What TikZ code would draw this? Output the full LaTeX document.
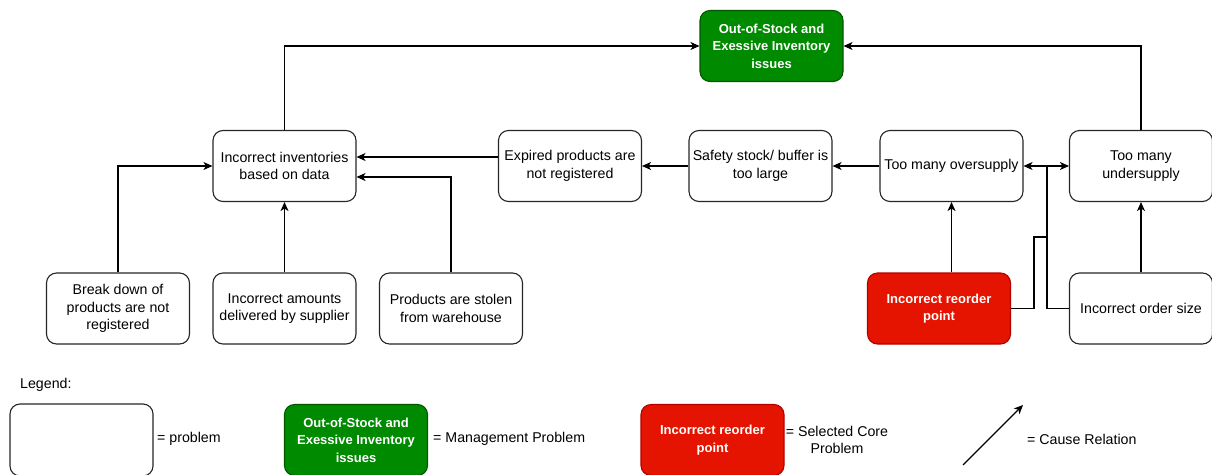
\documentclass[tikz,border=0pt]{standalone}
\usepackage{fontspec}
\setmainfont{Liberation Sans}
\usetikzlibrary{arrows.meta,calc}
\definecolor{mgreen}{HTML}{008A00}
\definecolor{mgreenb}{HTML}{005700}
\definecolor{mred}{HTML}{E51400}
\definecolor{mredb}{HTML}{B20000}
\tikzset{
  box/.style={draw=black!85, line width=1.1pt, rounded corners=10pt, minimum width=143pt, minimum height=71pt,
    align=center, inner sep=0pt, font=\fontsize{14.2}{17.5}\selectfont, fill=white},
  mgmt/.style={box, fill=mgreen, draw=mgreenb, text=white, font=\fontsize{13}{17.5}\selectfont\bfseries},
  core/.style={box, fill=mred, draw=mredb, text=white, font=\fontsize{13}{17.5}\selectfont\bfseries},
  arr/.style={line width=1.1pt, -{Stealth[length=9pt,width=8pt,inset=2.5pt]}},
  darr/.style={line width=1.1pt, {Stealth[length=9pt,width=8pt,inset=2.5pt]}-{Stealth[length=9pt,width=8pt,inset=2.5pt]}},
  lbl/.style={font=\fontsize{14.2}{17.5}\selectfont, inner sep=0pt, align=center}
}
\begin{document}
\begin{tikzpicture}[x=1pt,y=-1pt]
\useasboundingbox (0,0) rectangle (1212,474);
% main nodes
\node[mgmt] (green) at (771.5,46) {Out-of-Stock and\\Exessive Inventory\\issues};
\node[box] (inv) at (284.5,166) {Incorrect inventories\\based on data};
\node[box] (exp) at (570,166) {Expired products are\\not registered};
\node[box] (safe) at (760.5,166) {Safety stock/ buffer is\\too large};
\node[box] (over) at (951.5,166) {Too many oversupply};
\node[box] (under) at (1141,166) {Too many\\undersupply};
\node[box] (brk) at (118,308.5) {Break down of\\products are not\\registered};
\node[box] (amt) at (284.5,308.5) {Incorrect amounts\\delivered by supplier};
\node[box] (stl) at (451,308.5) {Products are stolen\\from warehouse};
\node[core] (rp) at (939,308.5) {Incorrect reorder\\point};
\node[box] (os) at (1141,308.5) {Incorrect order size};
% connectors
\draw[arr] (inv.north) |- (green.west);
\draw[arr] (under.north) |- (green.east);
\draw[arr] ([yshift=9pt]exp.west) -- ([yshift=9pt]inv.east);
\draw[arr] (safe.west) -- (exp.east);
\draw[arr] (over.west) -- (safe.east);
\draw[arr] (brk.north) |- (inv.west);
\draw[arr] (amt.north) -- (inv.south);
\draw[arr] (stl.north) |- ([yshift=-11pt]inv.east);
\draw[arr] (over.south |- rp.north) -- (over.south);
\draw[arr] (os.north) -- (under.south);
\coordinate (j) at (1047,166);
\coordinate (k1) at (1034,237);
\draw[darr] (over.east) -- (under.west);
\draw[line width=1.1pt] (rp.east) -| (k1) -| (j);
\draw[line width=1.1pt] (os.west) -| (j);
% legend
\node[lbl, anchor=west] (leg) at (20,385) {Legend:};
\node[box, minimum height=72pt] (lp) at (81.5,440) {};
\node[lbl, anchor=west] (lpt) at (157,439) {= problem};
\node[mgmt] (lm) at (356,440) {Out-of-Stock and\\Exessive Inventory\\issues};
\node[lbl, anchor=west] (lmt) at (433,439) {= Management Problem};
\node[core] (lc) at (712.5,440) {Incorrect reorder\\point};
\node[lbl] (lct) at (837,440) {= Selected Core\\Problem};
\coordinate (la) at (963,465);
\coordinate (lb) at (1023,405);
\draw[arr] (la) -- (lb);
\node[lbl, anchor=west] (lat) at (1027,439) {= Cause Relation};
\end{tikzpicture}
\end{document}
